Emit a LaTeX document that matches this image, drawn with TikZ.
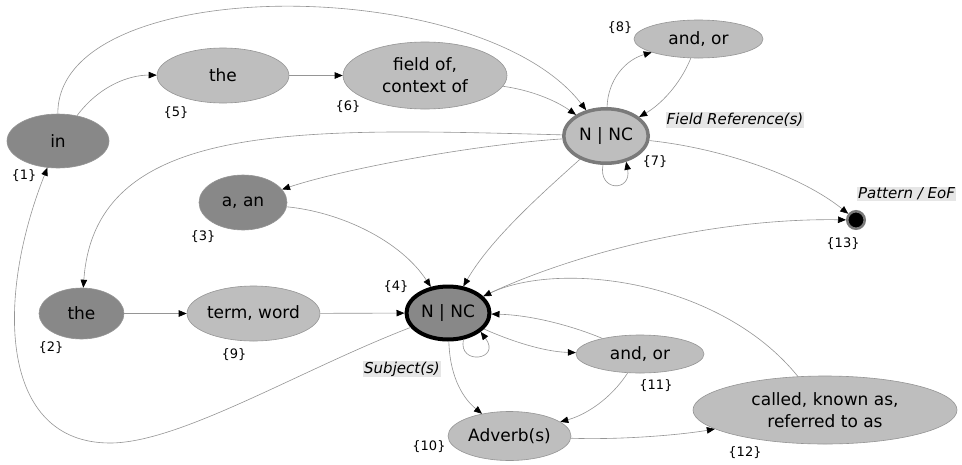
\documentclass[tikz,border=0pt]{standalone}
\usepackage{fontspec}
\setmainfont{DejaVu Sans}
\usetikzlibrary{shapes.geometric,arrows.meta}

\definecolor{darkfill}{HTML}{888888}
\definecolor{lightfill}{HTML}{BEBEBE}
\definecolor{edgegray}{HTML}{959595}
\definecolor{rimgray}{HTML}{7A7A7A}
\definecolor{tagbg}{HTML}{E6E6E6}

\begin{document}
\begin{tikzpicture}[x=1pt,y=-1pt,
  state/.style={ellipse, draw=rimgray!80, line width=0.6pt, inner sep=0pt,
                align=center, font=\fontsize{17}{22}\selectfont},
  dark/.style={state, fill=darkfill},
  light/.style={state, fill=lightfill},
  idx/.style={font=\fontsize{13}{15}\selectfont, inner sep=0pt},
  tag/.style={font=\fontsize{15}{17}\selectfont\itshape, fill=tagbg, inner sep=1pt},
  link/.style={draw=edgegray, line width=0.6pt,
               -{Triangle[length=8pt,width=6.5pt,color=black]}},
]
\useasboundingbox (0,0) rectangle (962,464);
\fill[white] (0,0) rectangle (962,464);

% states
\node[dark,  minimum width=102pt, minimum height=54pt] (in) at (58,141) {in};
\node[light, minimum width=132pt, minimum height=55pt] (the5) at (223,75.5) {the};
\node[light, minimum width=164pt, minimum height=67pt] (field6) at (425,75.5) {field of,\\context of};
\node[state, fill=lightfill, draw=rimgray, line width=3.5pt,
      minimum width=84.5pt, minimum height=54.5pt] (nc7) at (606,136) {N | NC};
\node[light, minimum width=129pt, minimum height=38pt] (and8) at (698.5,39) {and, or};
\node[dark,  minimum width=88pt, minimum height=55pt] (a3) at (243,202.5) {a, an};
\node[dark,  minimum width=85pt, minimum height=51pt] (the2) at (81.5,313.5) {the};
\node[light, minimum width=133pt, minimum height=55pt] (term9) at (253.5,313.5) {term, word};
\node[state, fill=darkfill, draw=black, line width=4pt,
      minimum width=83pt, minimum height=53pt] (nc4) at (448,313) {N | NC};
\node[light, minimum width=128pt, minimum height=38pt] (and11) at (640,354) {and, or};
\node[light, minimum width=123pt, minimum height=49pt] (adv10) at (509.5,436) {Adverb(s)};
\node[light, minimum width=264pt, minimum height=68pt] (called12) at (825,410) {called, known as,\\referred to as};
\node[circle, fill=black, draw=rimgray, line width=2.5pt, minimum size=17.5pt, inner sep=0pt] (eof) at (856,220) {};

% state numbers
\node[idx] (l1) at (24,176) {\{1\}};
\node[idx] (l2) at (51,348) {\{2\}};
\node[idx] (l3) at (203,237) {\{3\}};
\node[idx] (l4) at (396,287) {\{4\}};
\node[idx] (l5) at (176,113) {\{5\}};
\node[idx] (l6) at (348,107) {\{6\}};
\node[idx] (l7) at (655,162) {\{7\}};
\node[idx] (l8) at (620,28) {\{8\}};
\node[idx] (l9) at (234,355) {\{9\}};
\node[idx] (l10) at (429,447) {\{10\}};
\node[idx] (l11) at (656,386) {\{11\}};
\node[idx] (l12) at (745,453) {\{12\}};
\node[idx] (l13) at (843,244) {\{13\}};

% group tags
\node[tag] (fieldref) at (735,120) {Field Reference(s)};
\node[tag] (eoftag) at (906.5,194) {Pattern / EoF};
\node[tag] (subj) at (402,369) {Subject(s)};

% transitions
\draw[link] (in) .. controls (57,-28) and (480,-28) .. (nc7);
\draw[link] (in) .. controls (100,85) and (130,75) .. (the5);
\draw[link] (the5) -- (field6);
\draw[link] (field6) .. controls (530,90) and (555,100) .. (nc7);
\draw[link] (nc7) .. controls (608,80) and (625,60) .. (and8);
\draw[link] (and8) .. controls (680,85) and (660,105) .. (nc7);
\draw[link] (nc7.264) .. controls (598,192) and (632,192) .. (nc7.308);
\draw[link] (nc7) .. controls (470,145) and (340,170) .. (a3);
\draw[link] (nc7) .. controls (300,128) and (95,120) .. (the2);
\draw[link] (nc7) .. controls (720,148) and (800,175) .. (eof);
\draw[link] (nc7) .. controls (540,195) and (490,240) .. (nc4);
\draw[link] (a3) .. controls (340,212) and (400,240) .. (nc4);
\draw[link] (the2) -- (term9);
\draw[link] (term9) -- (nc4);
\draw[link] (nc4) .. controls (300,370) and (180,443) .. (110,443)
                  .. controls (0,443) and (-5,300) .. (in);
\draw[link] (nc4) .. controls (580,250) and (720,218) .. (eof);
\draw[link] (called12) .. controls (720,280) and (560,260) .. (nc4);
\draw[link] (and11) .. controls (570,325) and (530,315) .. (nc4);
\draw[link] (nc4) .. controls (520,345) and (550,352) .. (and11);
\draw[link] (nc4.300) .. controls (458,366) and (502,360) .. (nc4.330);
\draw[link] (and11) .. controls (610,400) and (585,415) .. (adv10);
\draw[link] (nc4) .. controls (450,380) and (465,400) .. (adv10);
\draw[link] (adv10) .. controls (620,440) and (680,435) .. (called12);
\end{tikzpicture}
\end{document}
